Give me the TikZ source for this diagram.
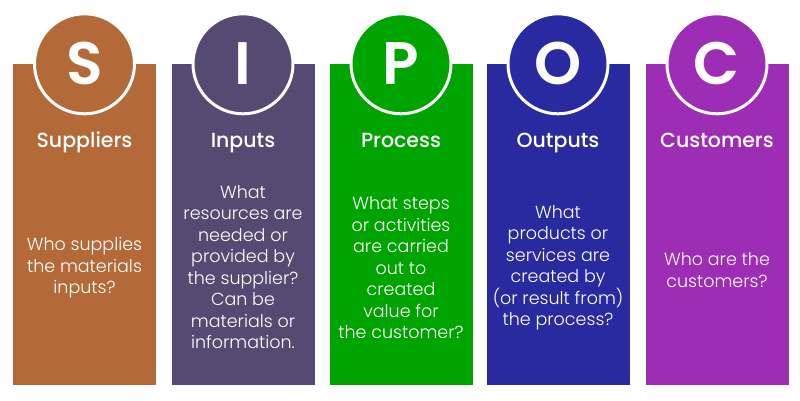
\documentclass[tikz,border=0pt]{standalone}
\usepackage{fontspec}
\setmainfont{Poppins}
\newfontfamily\lightfont{Poppins Light}
\newfontfamily\mediumfont{Poppins Medium}
\newfontfamily\semifont{Poppins SemiBold}
\usetikzlibrary{positioning}
\definecolor{SupBrown}{HTML}{B36A38}
\definecolor{InpPurple}{HTML}{564A72}
\definecolor{ProGreen}{HTML}{00A400}
\definecolor{OutBlue}{HTML}{2A2AA0}
\definecolor{CusViolet}{HTML}{9D2DB5}

\begin{document}
\begin{tikzpicture}[
    x=1pt, y=-1pt,
    bar/.style={rectangle, inner sep=0pt, minimum width=143pt, minimum height=321pt},
    badge/.style={circle, draw=white, line width=3pt, inner sep=0pt, minimum size=100pt,
        text=white, font=\fontsize{60}{60}\selectfont\semifont},
    title/.style={text=white, anchor=base, font=\fontsize{20.5}{22}\selectfont\mediumfont},
    body/.style={text=white, align=center, font=\fontsize{17.5}{21.5}\selectfont\lightfont},
]
\useasboundingbox (0,0) rectangle (800,400);

% ================= S: Suppliers =================
\node[bar, fill=SupBrown] (barS) at (84.5,224.5) {};
\node[badge, fill=SupBrown] (cirS) at (barS.north) {S};
\node[title] (titS) at (84.5,147) {Suppliers};
\node[body] (txtS) at (84.5,268) {Who supplies\\the materials\\inputs?};

% ================= I: Inputs =================
\node[bar, fill=InpPurple] (barI) at (243,224.5) {};
\node[badge, fill=InpPurple] (cirI) at (barI.north) {I};
\node[title] (titI) at (243,147) {Inputs};
\node[body] (txtI) at (243,267) {What\\resources are\\needed or\\provided by\\the supplier?\\Can be\\materials or\\information.};

% ================= P: Process =================
\node[bar, fill=ProGreen] (barP) at (401,224.5) {};
\node[badge, fill=ProGreen] (cirP) at (barP.north) {P};
\node[title] (titP) at (401,147) {Process};
\node[body] (txtP) at (401,268) {What steps\\or activities\\are carried\\out to\\created\\value for\\the customer?};

% ================= O: Outputs =================
\node[bar, fill=OutBlue] (barO) at (558,224.5) {};
\node[badge, fill=OutBlue] (cirO) at (barO.north) {O};
\node[title] (titO) at (558,147) {Outputs};
\node[body] (txtO) at (558,268) {What\\products or\\services are\\created by\\(or result from)\\the process?};

% ================= C: Customers =================
\node[bar, fill=CusViolet] (barC) at (717,224.5) {};
\node[badge, fill=CusViolet] (cirC) at (barC.north) {C};
\node[title] (titC) at (717,147) {Customers};
\node[body] (txtC) at (717,270) {Who are the\\customers?};

\end{tikzpicture}
\end{document}
